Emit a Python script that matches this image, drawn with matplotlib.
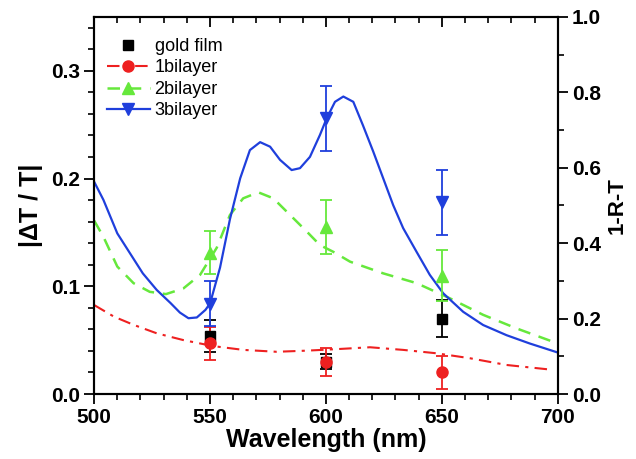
import matplotlib.pyplot as plt
from matplotlib.lines import Line2D
from matplotlib.ticker import MultipleLocator

plt.rcParams['font.family'] = ['Liberation Sans', 'DejaVu Sans']

# 1-R-T spectra
wl_blue = [500, 504, 510, 515.5, 521, 527, 533, 537, 540.7, 544.3, 548, 550, 554.3,
           558.6, 563, 567.2, 571.6, 575.9, 580.2, 585.2, 588.8, 593.1, 597.4, 600.3,
           603.9, 607.5, 611.8, 616, 620.4, 624.7, 629, 633.3, 639.1, 644.8, 650.6,
           659.2, 667.8, 677.9, 687.9, 700]
rt_blue = [0.563, 0.515, 0.426, 0.373, 0.320, 0.276, 0.241, 0.216, 0.201, 0.203,
           0.223, 0.240, 0.335, 0.464, 0.572, 0.647, 0.668, 0.656, 0.621, 0.594,
           0.599, 0.629, 0.687, 0.731, 0.775, 0.789, 0.775, 0.712, 0.643, 0.572,
           0.501, 0.440, 0.377, 0.316, 0.267, 0.218, 0.183, 0.156, 0.134, 0.110]
wl_green = [500, 504, 510, 517, 524, 531, 538.5, 545.7, 552.9, 558.6, 564.3, 570.8,
            577.3, 584.5, 591.7, 597.4, 603.2, 610.4, 624.7, 639.1, 653.4, 667.8,
            682.2, 700]
rt_green = [0.460, 0.417, 0.338, 0.294, 0.271, 0.265, 0.280, 0.316, 0.388, 0.475,
            0.519, 0.535, 0.519, 0.475, 0.431, 0.395, 0.377, 0.351, 0.320, 0.294,
            0.254, 0.210, 0.174, 0.134]
wl_red = [500, 508.6, 517.2, 527, 538.5, 551.4, 564.4, 578.7, 591.7, 604.6, 619,
          633.3, 647.7, 662, 677.9, 698]
rt_red = [0.236, 0.205, 0.183, 0.161, 0.143, 0.127, 0.117, 0.112, 0.115, 0.119,
          0.124, 0.117, 0.108, 0.095, 0.077, 0.064]

# |dT/T| measurements
wl_pts = [550, 600, 650]
gold = [0.054, 0.030, 0.070]
gold_err = [0.015, 0.007, 0.017]
bl1 = [0.047, 0.030, 0.020]
bl1_err = [0.015, 0.013, 0.015]
bl2 = [0.131, 0.155, 0.110]
bl2_err = [0.020, 0.025, 0.024]
bl3 = [0.084, 0.256, 0.178]
bl3_err = [0.021, 0.030, 0.030]

c_red = '#ee2020'
c_green = '#66e83c'
c_blue = '#1f3fdc'
ls_red = (0, (6, 3, 1.5, 3))
ls_green = (0, (5, 3.5))

fig = plt.figure(figsize=(6.36, 4.59), dpi=100)
ax = fig.add_axes([0.148, 0.1416, 0.729, 0.8214])
ax2 = ax.twinx()

ax2.plot(wl_red, rt_red, color=c_red, lw=1.5, ls=ls_red)
ax2.plot(wl_green, rt_green, color=c_green, lw=1.8, ls=ls_green)
ax2.plot(wl_blue, rt_blue, color=c_blue, lw=1.6)

ax.set_zorder(ax2.get_zorder() + 1)
ax.patch.set_visible(False)

ax.errorbar(wl_pts, gold, yerr=gold_err, fmt='s', color='black', ms=7, capsize=4, elinewidth=1.3, capthick=1.3)
ax.errorbar(wl_pts, bl1, yerr=bl1_err, fmt='o', color=c_red, ms=8, capsize=4, elinewidth=1.3, capthick=1.3)
ax.errorbar(wl_pts, bl2, yerr=bl2_err, fmt='^', color=c_green, ms=9, capsize=4, elinewidth=1.3, capthick=1.3)
ax.errorbar(wl_pts, bl3, yerr=bl3_err, fmt='v', color=c_blue, ms=9, capsize=4, elinewidth=1.3, capthick=1.3)

ax.set_xlim(500, 700)
ax.set_ylim(0, 0.35)
ax2.set_ylim(0, 1.0)

ax.xaxis.set_major_locator(MultipleLocator(50))
ax.xaxis.set_minor_locator(MultipleLocator(10))
ax.yaxis.set_major_locator(MultipleLocator(0.1))
ax.yaxis.set_minor_locator(MultipleLocator(0.02))
ax2.yaxis.set_major_locator(MultipleLocator(0.2))
ax2.yaxis.set_minor_locator(MultipleLocator(0.1))

for a in (ax, ax2):
    for s in a.spines.values():
        s.set_linewidth(1.5)
ax.tick_params(axis='both', which='major', length=7, width=1.3, labelsize=15, pad=3)
ax.tick_params(axis='both', which='minor', length=4, width=1.2)
ax.tick_params(axis='x', top=True, which='both')
ax.tick_params(axis='y', right=False, which='both')
ax2.tick_params(axis='y', which='major', length=7, width=1.3, labelsize=15, pad=3)
ax2.tick_params(axis='y', which='minor', length=4, width=1.2)
for a in (ax, ax2):
    for lab in a.get_xticklabels() + a.get_yticklabels():
        lab.set_fontweight('bold')

# top ticks point inward, the rest outward
for t in ax.xaxis.get_major_ticks() + ax.xaxis.get_minor_ticks():
    t.tick2line.set_marker(3)

ax.set_xlabel('Wavelength (nm)', fontsize=18, fontweight='bold', labelpad=1)
ax.set_ylabel('|ΔT / T|', fontsize=18, fontweight='bold', labelpad=6)
ax2.set_ylabel('1-R-T', fontsize=16, fontweight='bold', labelpad=4)

handles = [
    Line2D([], [], ls='none', marker='s', color='black', ms=7),
    Line2D([], [], color=c_red, lw=1.5, ls=ls_red, marker='o', ms=8),
    Line2D([], [], color=c_green, lw=1.8, ls=ls_green, marker='^', ms=9),
    Line2D([], [], color=c_blue, lw=1.6, marker='v', ms=9),
]
ax.legend(handles, ['gold film', '1bilayer', '2bilayer', '3bilayer'], loc='upper left',
          bbox_to_anchor=(0.0, 0.978), frameon=False, fontsize=13, handlelength=2.4,
          handletextpad=0.25, labelspacing=0.25, borderaxespad=0.3)

fig.savefig('out.png', dpi=100)
